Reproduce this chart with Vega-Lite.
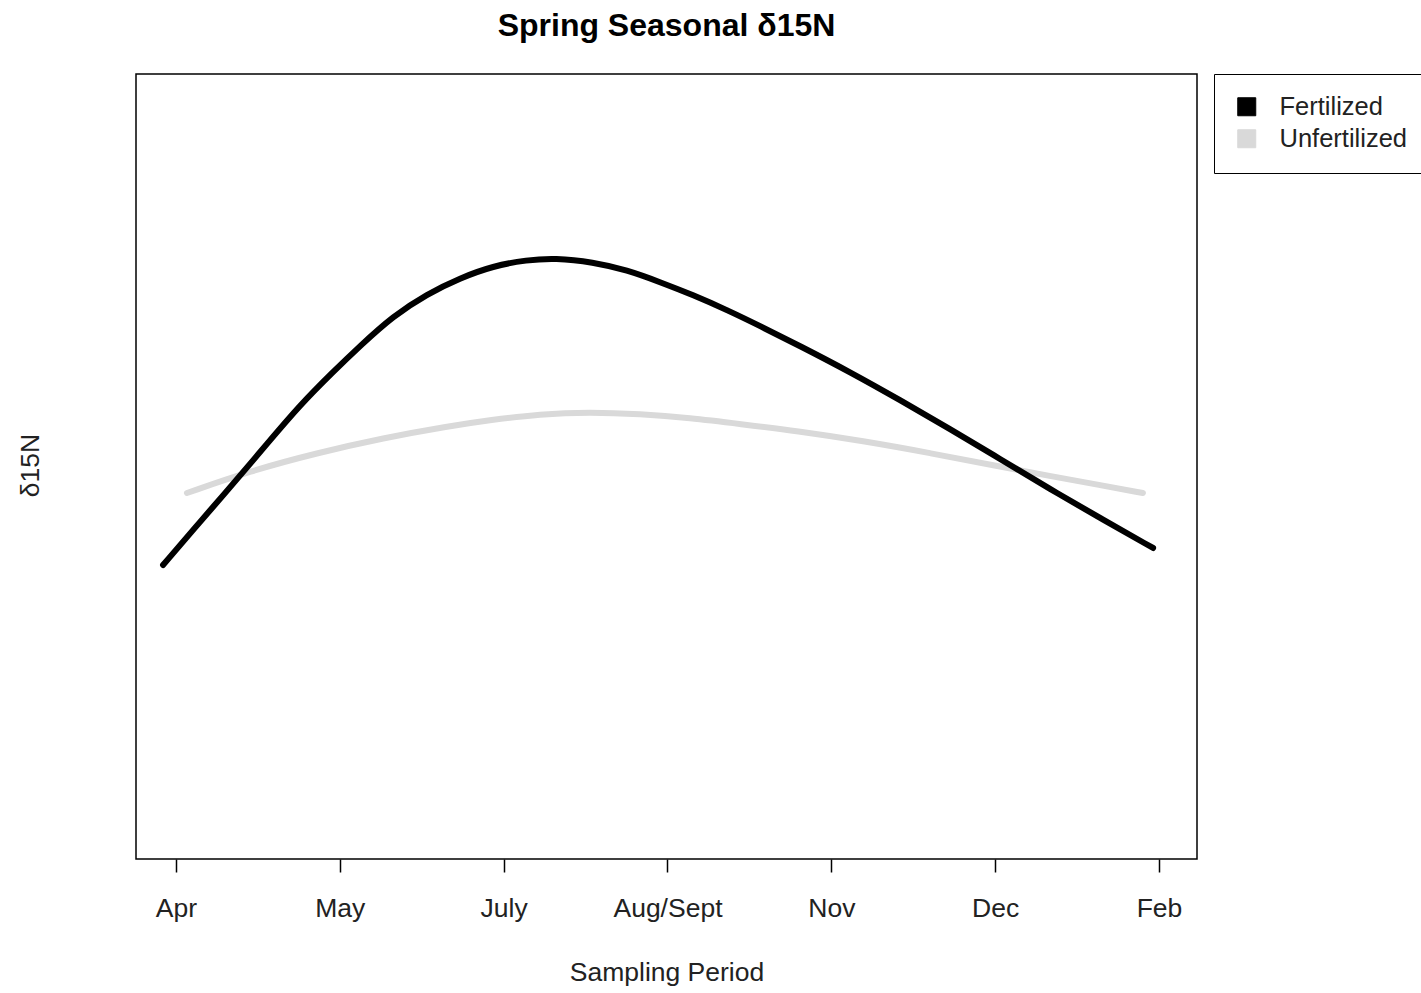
{
  "$schema": "https://vega.github.io/schema/vega-lite/v6.json",
  "width": 1061,
  "height": 785,
  "autosize": {"type": "none"},
  "padding": {"left": 136, "top": 74, "right": 224, "bottom": 134},
  "background": "white",
  "config": {
    "font": "Liberation Sans",
    "view": {"stroke": "black", "strokeWidth": 1.5},
    "axis": {"grid": false}
  },
  "title": {
    "text": "Spring Seasonal δ15N",
    "font": "Liberation Sans",
    "fontSize": 32,
    "fontWeight": "bold",
    "color": "black",
    "anchor": "middle",
    "baseline": "alphabetic",
    "offset": 6
  },
  "data": {
    "values": [
      {"period": 0.921, "d15N": 3.745, "treatment": "Fertilized"},
      {"period": 1.146, "d15N": 4.293, "treatment": "Fertilized"},
      {"period": 1.348, "d15N": 4.777, "treatment": "Fertilized"},
      {"period": 1.555, "d15N": 5.287, "treatment": "Fertilized"},
      {"period": 1.757, "d15N": 5.783, "treatment": "Fertilized"},
      {"period": 1.958, "d15N": 6.204, "treatment": "Fertilized"},
      {"period": 2.123, "d15N": 6.535, "treatment": "Fertilized"},
      {"period": 2.325, "d15N": 6.917, "treatment": "Fertilized"},
      {"period": 2.532, "d15N": 7.197, "treatment": "Fertilized"},
      {"period": 2.734, "d15N": 7.401, "treatment": "Fertilized"},
      {"period": 2.935, "d15N": 7.554, "treatment": "Fertilized"},
      {"period": 3.142, "d15N": 7.631, "treatment": "Fertilized"},
      {"period": 3.313, "d15N": 7.656, "treatment": "Fertilized"},
      {"period": 3.545, "d15N": 7.605, "treatment": "Fertilized"},
      {"period": 3.753, "d15N": 7.503, "treatment": "Fertilized"},
      {"period": 3.954, "d15N": 7.350, "treatment": "Fertilized"},
      {"period": 4.156, "d15N": 7.185, "treatment": "Fertilized"},
      {"period": 4.363, "d15N": 6.994, "treatment": "Fertilized"},
      {"period": 4.565, "d15N": 6.790, "treatment": "Fertilized"},
      {"period": 4.809, "d15N": 6.535, "treatment": "Fertilized"},
      {"period": 5.114, "d15N": 6.204, "treatment": "Fertilized"},
      {"period": 5.419, "d15N": 5.847, "treatment": "Fertilized"},
      {"period": 5.724, "d15N": 5.478, "treatment": "Fertilized"},
      {"period": 6.030, "d15N": 5.096, "treatment": "Fertilized"},
      {"period": 6.335, "d15N": 4.713, "treatment": "Fertilized"},
      {"period": 6.640, "d15N": 4.344, "treatment": "Fertilized"},
      {"period": 6.964, "d15N": 3.962, "treatment": "Fertilized"},
      {"period": 1.067, "d15N": 4.662, "treatment": "Unfertilized"},
      {"period": 1.452, "d15N": 4.943, "treatment": "Unfertilized"},
      {"period": 1.861, "d15N": 5.172, "treatment": "Unfertilized"},
      {"period": 2.264, "d15N": 5.363, "treatment": "Unfertilized"},
      {"period": 2.672, "d15N": 5.516, "treatment": "Unfertilized"},
      {"period": 2.917, "d15N": 5.592, "treatment": "Unfertilized"},
      {"period": 3.222, "d15N": 5.669, "treatment": "Unfertilized"},
      {"period": 3.527, "d15N": 5.694, "treatment": "Unfertilized"},
      {"period": 3.832, "d15N": 5.669, "treatment": "Unfertilized"},
      {"period": 4.137, "d15N": 5.618, "treatment": "Unfertilized"},
      {"period": 4.443, "d15N": 5.541, "treatment": "Unfertilized"},
      {"period": 4.791, "d15N": 5.452, "treatment": "Unfertilized"},
      {"period": 5.193, "d15N": 5.325, "treatment": "Unfertilized"},
      {"period": 5.602, "d15N": 5.172, "treatment": "Unfertilized"},
      {"period": 6.011, "d15N": 5.006, "treatment": "Unfertilized"},
      {"period": 6.335, "d15N": 4.879, "treatment": "Unfertilized"},
      {"period": 6.640, "d15N": 4.764, "treatment": "Unfertilized"},
      {"period": 6.902, "d15N": 4.662, "treatment": "Unfertilized"}
    ]
  },
  "encoding": {
    "x": {
      "field": "period",
      "type": "quantitative",
      "scale": {"domain": [0.756, 7.232], "nice": false, "zero": false},
      "axis": {
        "title": "Sampling Period",
        "values": [1, 2, 3, 4, 5, 6, 7],
        "labelExpr": "['','Apr','May','July','Aug/Sept','Nov','Dec','Feb'][datum.value]",
        "domain": false,
        "ticks": true,
        "tickSize": 13,
        "tickWidth": 1.5,
        "tickColor": "black",
        "labelFont": "Liberation Sans",
        "labelFontSize": 26.5,
        "labelColor": "#222222",
        "labelPadding": 23,
        "labelFlush": false,
        "labelOverlap": false,
        "titleFont": "Liberation Sans",
        "titleFontSize": 26.5,
        "titleFontWeight": "normal",
        "titleColor": "#222222",
        "titleBaseline": "alphabetic",
        "titleY": 121
      }
    },
    "y": {
      "field": "d15N",
      "type": "quantitative",
      "scale": {"domain": [0, 10], "nice": false, "zero": false},
      "axis": {
        "title": "δ15N",
        "ticks": false,
        "labels": false,
        "domain": false,
        "titleFont": "Liberation Sans",
        "titleFontSize": 26.5,
        "titleFontWeight": "normal",
        "titleColor": "#222222",
        "titleAngle": -90,
        "titleBaseline": "middle",
        "titleAlign": "center",
        "titleX": -106,
        "titleY": 391
      }
    },
    "color": {
      "field": "treatment",
      "type": "nominal",
      "scale": {"domain": ["Fertilized", "Unfertilized"], "range": ["#000000", "#D9D9D9"]},
      "legend": {
        "title": null,
        "orient": "none",
        "legendX": 1078,
        "legendY": 0,
        "direction": "vertical",
        "symbolType": "square",
        "symbolSize": 324,
        "symbolStrokeWidth": 1,
        "labelFont": "Liberation Sans",
        "labelFontSize": 25.5,
        "labelColor": "#222222",
        "labelOffset": 20,
        "rowPadding": 5,
        "padding": 20,
        "strokeColor": "black",
        "fillColor": "white",
        "encode": {
          "symbols": {
            "update": {
              "fill": {"scale": "color", "field": "value"},
              "stroke": {"value": "#333333"},
              "strokeWidth": {"value": 1}
            }
          }
        }
      }
    }
  },
  "layer": [
    {
      "transform": [{"filter": "datum.treatment === 'Unfertilized'"}],
      "mark": {"type": "line", "strokeWidth": 6, "strokeCap": "round", "interpolate": "basis"}
    },
    {
      "transform": [{"filter": "datum.treatment === 'Fertilized'"}],
      "mark": {"type": "line", "strokeWidth": 6, "strokeCap": "round", "interpolate": "basis"}
    }
  ]
}
